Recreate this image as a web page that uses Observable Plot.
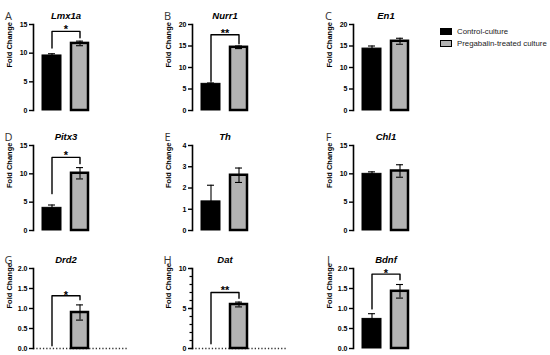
<!DOCTYPE html>
<html>
<head>
<meta charset="utf-8">
<script src="https://cdn.jsdelivr.net/npm/d3@7"></script>
<script src="https://cdn.jsdelivr.net/npm/@observablehq/plot@0.6"></script>
<style>
  body { margin: 0; background: #fff; }
  #chart { position: relative; width: 550px; height: 355px; background: #fff; overflow: hidden; font-family: "Liberation Sans", Arial, sans-serif; }
  .panel { position: absolute; }
  .leg { position: absolute; font-size: 7.8px; color: #222; line-height: 1; white-space: nowrap; }
  .sw { position: absolute; box-sizing: border-box; }
</style>
</head>
<body>
<div id="chart"></div>
<script>
// ---- data ----
const groups = ["Control-culture", "Pregabalin-treated culture"];
const genes = ["Lmx1a", "Nurr1", "En1", "Pitx3", "Th", "Chl1", "Drd2", "Dat", "Bdnf"];
const letters = ["A", "B", "C", "D", "E", "F", "G", "H", "I"];
const controlMean = [9.6, 6.2, 14.4, 4.0, 1.37, 10.0, 0, 0, 0.74];
const controlErr = [0.3, 0.2, 0.6, 0.5, 0.76, 0.35, 0, 0, 0.13];
const pregMean = [11.7, 14.7, 16.1, 10.1, 2.6, 10.5, 0.9, 5.5, 1.43];
const pregErr = [0.4, 0.3, 0.7, 1.0, 0.34, 1.1, 0.19, 0.3, 0.17];
const yMax = [15, 20, 20, 15, 4, 15, 2, 10, 2];
const yTickStep = [5, 5, 5, 5, 1, 5, 0.5, 5, 0.5];
const yMinorStep = [null, null, null, null, null, null, null, 1, null];
const sigLabel = ["*", "**", "", "*", "", "", "*", "**", "*"];
const bracketTop = [13.8, 17.6, null, 12.9, null, null, 1.32, 7.0, 1.86];
const bracketLeft = [10.9, 6.8, null, 6.5, null, null, 0.07, 0.58, 0.99];
const bracketRight = [12.7, 15.5, null, 11.8, null, null, 1.22, 6.27, 1.72];
const sigTextY = [14.9, 18.9, null, 13.9, null, null, 1.43, 7.75, 1.97];
const dottedBaseline = [false, false, false, false, false, false, true, true, false];

// ---- layout ----
const colAxisX = [33, 192, 353];
const rowTop = [24, 145, 268];
const rowBottom = [110, 230, 348];
const mL = 34, mR = 6, mT = 22, mB = 4, plotW = 65;

const chart = document.getElementById("chart");

genes.forEach((gene, i) => {
  const col = i % 3, row = Math.floor(i / 3);
  const h = mT + (rowBottom[row] - rowTop[row]) + mB;
  const w = mL + plotW + mR;
  const data = [
    {group: groups[0], mean: controlMean[i], err: controlErr[i]},
    {group: groups[1], mean: pregMean[i], err: pregErr[i]}
  ];
  const shown = data.filter(d => d.mean > 0);
  const caps = shown.flatMap(d => [{group: d.group, v: d.mean + d.err}, {group: d.group, v: d.mean - d.err}]);
  const step = yTickStep[i];
  const ticks = d3.range(0, yMax[i] + step / 2, step);
  const fmt = step < 1 ? d3.format(".1f") : d3.format("d");
  const marks = [];
  if (dottedBaseline[i]) {
    marks.push(Plot.ruleY([0], {stroke: "#333", strokeWidth: 1.3, strokeDasharray: "1.3,2", insetRight: -30}));
  }
  marks.push(
    Plot.barY(shown.filter(d => d.group === groups[0]), {x: "group", y: "mean", fill: "#000", stroke: "#000", strokeWidth: 1}),
    Plot.barY(shown.filter(d => d.group === groups[1]), {x: "group", y: "mean", fill: "#b3b3b3", stroke: "#000", strokeWidth: 2.5, insetLeft: 1, insetRight: 1}),
    Plot.ruleX(shown, {x: "group", y1: d => d.mean - d.err, y2: d => d.mean + d.err, stroke: "#000", strokeWidth: 1.1}),
    Plot.tickY(caps, {x: "group", y: "v", stroke: "#000", strokeWidth: 1.1, insetLeft: 6, insetRight: 6})
  );
  if (bracketTop[i] != null) {
    const pts = [
      {group: groups[0], v: bracketLeft[i]},
      {group: groups[0], v: bracketTop[i]},
      {group: groups[1], v: bracketTop[i]},
      {group: groups[1], v: bracketRight[i]}
    ];
    marks.push(Plot.line(pts, {x: "group", y: "v", stroke: "#000", strokeWidth: 1.4}));
    marks.push(Plot.text([sigLabel[i]], {y: () => sigTextY[i], dy: 4, text: d => d, fontSize: 11, fontWeight: "bold", fill: "#000"}));
  }
  marks.push(
    Plot.frame({anchor: "left", stroke: "#000", strokeWidth: 1.6}),
    Plot.axisY({ticks, tickSize: 4, tickPadding: 2, tickFormat: fmt, label: null, fontSize: 7, fontWeight: "bold", strokeWidth: 1.4})
  );
  if (yMinorStep[i]) {
    marks.push(Plot.axisY({ticks: d3.range(0, yMax[i] + 0.01, yMinorStep[i]), tickSize: 2.5, tickFormat: () => "", label: null, strokeWidth: 1.2}));
  }
  marks.push(
    Plot.text([gene], {frameAnchor: "top", dy: -12, text: d => d, fontSize: 9.5, fontWeight: "bold", fontStyle: "italic", fill: "#000"}),
    Plot.text([letters[i]], {frameAnchor: "top-left", dx: -25, dy: -12, text: d => d, textAnchor: "middle", fontSize: 11, fontFamily: "Open Sans", fill: "#333"}),
    Plot.text(["Fold Change"], {frameAnchor: "left", dx: -24, rotate: -90, text: d => d, fontSize: 7.5, fontWeight: "bold", fill: "#000"})
  );
  const fig = Plot.plot({
    width: w, height: h,
    marginLeft: mL, marginRight: mR, marginTop: mT, marginBottom: mB,
    x: {domain: groups, paddingInner: 0.31, paddingOuter: 0.276, axis: null},
    y: {domain: [0, yMax[i]]},
    style: {fontFamily: "Liberation Sans, Arial, sans-serif", overflow: "visible", background: "transparent"},
    marks
  });
  const div = document.createElement("div");
  div.className = "panel";
  div.style.left = (colAxisX[col] - mL) + "px";
  div.style.top = (rowTop[row] - mT) + "px";
  div.appendChild(fig);
  chart.appendChild(div);
});

// ---- legend ----
const legendFills = ["#000", "#b3b3b3"];
groups.forEach((g, k) => {
  const sw = document.createElement("div");
  sw.className = "sw";
  sw.style.left = "440px";
  sw.style.top = (28 + k * 12) + "px";
  sw.style.width = "12px";
  sw.style.height = "7px";
  sw.style.background = legendFills[k];
  sw.style.border = k === 0 ? "1px solid #000" : "1.5px solid #000";
  chart.appendChild(sw);
  const t = document.createElement("div");
  t.className = "leg";
  t.style.left = "457px";
  t.style.top = (27.5 + k * 12) + "px";
  t.textContent = g;
  chart.appendChild(t);
});
</script>
</body>
</html>
